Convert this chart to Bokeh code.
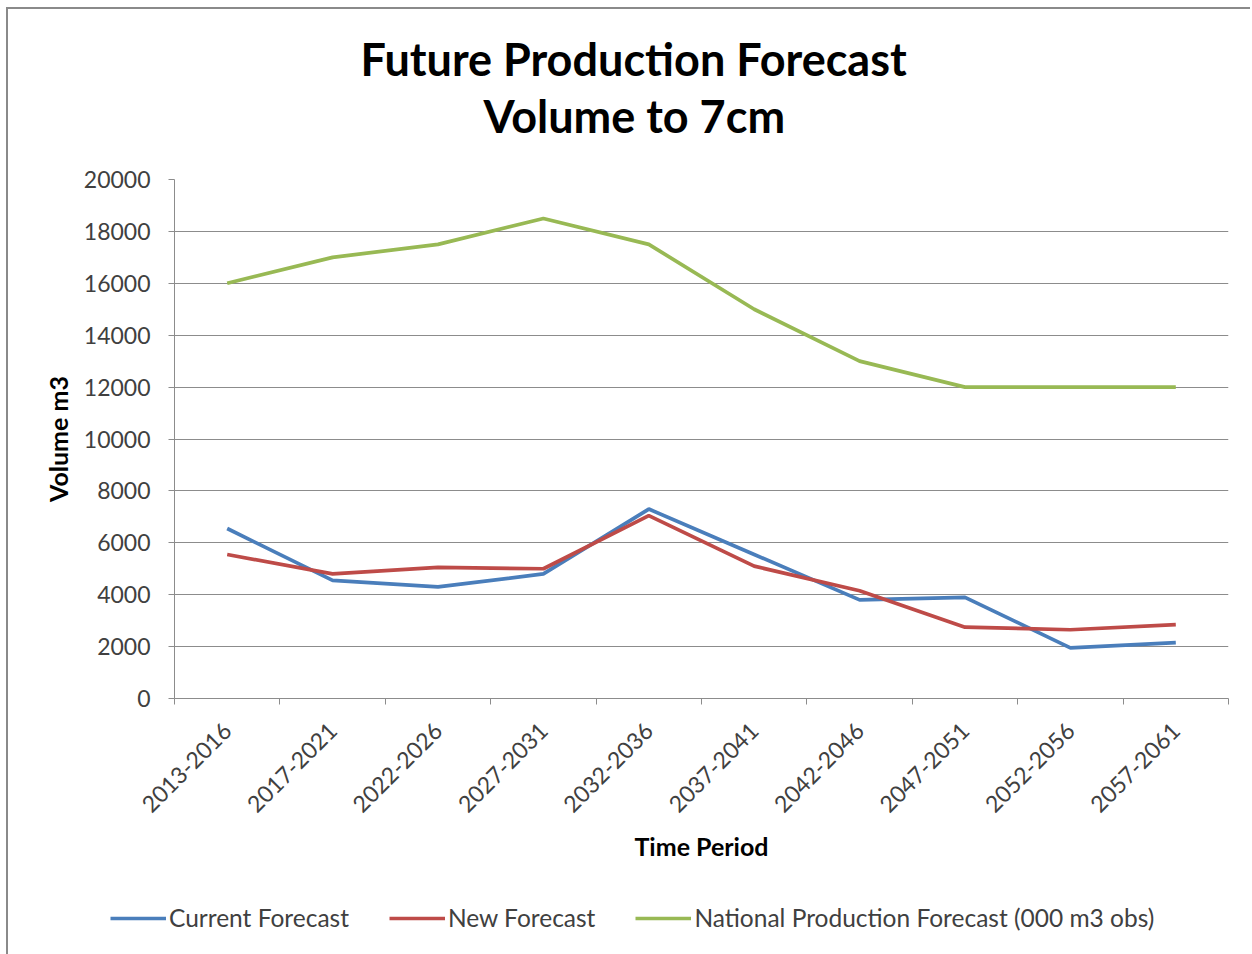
from bokeh.plotting import figure
from bokeh.models import FixedTicker, Range1d, Legend, LegendItem, Title
from bokeh.embed import file_html
from bokeh.resources import INLINE

# Forecast data by time period
periods = ["2013-2016", "2017-2021", "2022-2026", "2027-2031", "2032-2036",
           "2037-2041", "2042-2046", "2047-2051", "2052-2056", "2057-2061"]
current_forecast = [6550, 4550, 4300, 4800, 7300, 5550, 3800, 3900, 1950, 2150]
new_forecast = [5550, 4800, 5050, 5000, 7050, 5100, 4150, 2750, 2650, 2850]
national_forecast = [16000, 17000, 17500, 18500, 17500, 15000, 13000, 12000, 12000, 12000]
y_ticks = [0, 2000, 4000, 6000, 8000, 10000, 12000, 14000, 16000, 18000, 20000]
series_names = ["Current Forecast", "New Forecast", "National Production Forecast (000 m3 obs)"]
series_colors = ["#4A7EBB", "#BE4B48", "#98B954"]

FONT = "Lato"
GRID = "#8c8c8c"
LABEL = "#404040"
EDGE = "2px solid #8a8a8a"

# category centres sit half way between the boundary ticks
xc = [i + 0.5 for i in range(len(periods))]
bounds = list(range(len(periods) + 1))
series = [current_forecast, new_forecast, national_forecast]

p = figure(width=1244, height=880, output_backend="svg", toolbar_location=None,
           x_range=Range1d(0, len(periods)), y_range=Range1d(0, 20000),
           min_border_left=166, min_border_right=24,
           min_border_top=170, min_border_bottom=191)
p.margin = (7, 0, 0, 6)
p.styles = {"border-left": EDGE, "border-top": EDGE}
p.outline_line_color = None
p.background_fill_color = "white"
p.border_fill_color = "white"

# titles (the one added last sits on top)
p.add_layout(Title(text="Volume to 7cm", align="left", offset=309, standoff=74,
                   text_font=FONT, text_font_size="45px", text_font_style="bold",
                   text_color="black"), "above")
p.add_layout(Title(text="Future Production Forecast", align="left", offset=186, standoff=-72,
                   text_font=FONT, text_font_size="45px", text_font_style="bold",
                   text_color="black"), "above")

for vals, col in zip(series, series_colors):
    p.line(xc, vals, line_color=col, line_width=3.7)

# y axis
p.yaxis.ticker = FixedTicker(ticks=y_ticks)
p.yaxis.axis_line_color = GRID
p.yaxis.major_tick_line_color = GRID
p.yaxis.major_tick_out = 6
p.yaxis.major_tick_in = 0
p.yaxis.minor_tick_line_color = None
p.yaxis.major_label_standoff = 18
p.yaxis.major_label_text_font = FONT
p.yaxis.major_label_text_font_size = "23px"
p.yaxis.major_label_text_color = LABEL
p.yaxis.axis_label = "Volume m3"
p.yaxis.axis_label_standoff = 8
p.yaxis.axis_label_text_font = FONT
p.yaxis.axis_label_text_font_size = "25px"
p.yaxis.axis_label_text_font_style = "bold"
p.yaxis.axis_label_text_color = "black"

# x axis: labels at category centres, ticks at category boundaries
p.xaxis.ticker = FixedTicker(ticks=xc, minor_ticks=bounds)
p.xaxis.major_label_overrides = {x: lab for x, lab in zip(xc, periods)}
p.xaxis.major_label_orientation = 0.785398
p.xaxis.axis_line_color = GRID
p.xaxis.major_tick_line_color = None
p.xaxis.minor_tick_line_color = GRID
p.xaxis.minor_tick_out = 6
p.xaxis.minor_tick_in = 0
p.xaxis.major_label_standoff = 22
p.xaxis.major_label_text_font = FONT
p.xaxis.major_label_text_font_size = "23px"
p.xaxis.major_label_text_color = LABEL
p.xaxis.axis_label = "Time Period"
p.xaxis.axis_label_standoff = 8
p.xaxis.axis_label_text_font = FONT
p.xaxis.axis_label_text_font_size = "25px"
p.xaxis.axis_label_text_font_style = "bold"
p.xaxis.axis_label_text_color = "black"

p.xgrid.grid_line_color = None
p.ygrid.ticker = FixedTicker(ticks=y_ticks)
p.ygrid.grid_line_color = GRID
p.ygrid.grid_line_width = 1

# legend strip underneath the chart; its key lines stay hidden outside the view
pl = figure(width=1244, height=67, output_backend="svg", toolbar_location=None,
            x_axis_type=None, y_axis_type=None, min_border=0,
            x_range=Range1d(100, 101), y_range=Range1d(-2, -1))
pl.margin = (0, 0, 0, 6)
pl.styles = {"border-left": EDGE}
pl.outline_line_color = None
pl.grid.grid_line_color = None
pl.border_fill_color = "white"
keys = [pl.line(xc, vals, line_color=col, line_width=3.7) for vals, col in zip(series, series_colors)]
legend = Legend(items=[LegendItem(label=name, renderers=[r]) for name, r in zip(series_names, keys)],
                orientation="horizontal", location=(102, 22), padding=0, margin=0,
                spacing=40, glyph_width=56, glyph_height=24, label_height=24, label_standoff=3,
                label_text_font=FONT, label_text_font_size="24.5px", label_text_color=LABEL,
                border_line_color=None, background_fill_alpha=0)
pl.add_layout(legend, "center")

open("out.html", "w").write(file_html([p, pl], INLINE))
